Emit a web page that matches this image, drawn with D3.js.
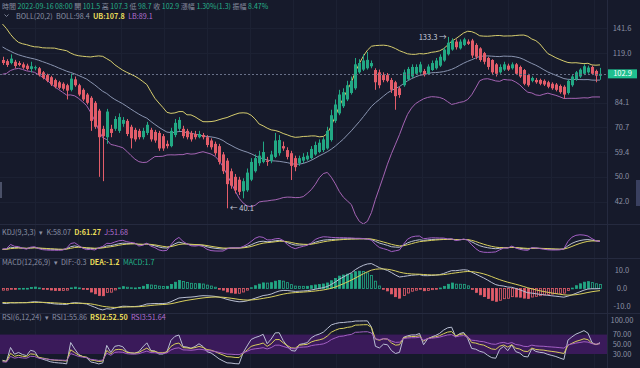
<!DOCTYPE html>
<html><head><meta charset="utf-8">
<script src="https://cdn.jsdelivr.net/npm/d3@7/dist/d3.min.js"></script>
<style>
html,body{margin:0;padding:0;background:#161a2b;overflow:hidden;}
svg{display:block;font-family:"Noto Sans CJK TC","Noto Sans",sans-serif;}
</style></head><body>
<svg id="c" width="640" height="368"></svg>
<script>
// ---------- data ----------
const opens = [
113.4,112.5,111,112,111,110,109,106.5,107,107,
104,102,100.5,98.5,97,96,95,92,99,95,
92,89,87,84,79.5,70,66,70,70,69,
72.5,74,71,69.5,69,66,68,69.5,68.5,68,
66.5,63,62,67,70,70,69,68,67.5,66,
67,66,64.5,63,62,58.5,56,52,50,49,
45.2,45.5,49,52,55,55.5,56,56,57.5,59,
62,60.3,59,57,55,56,56.5,57,58.5,59.5,
60.3,61,64.7,74,78,82,86,90,93,104,
106,107,108.5,105.7,104,102,102,98.6,97,93,
95,99,101,103,104,105,103,105.7,107,109,
113,118,122,129,123,126,129,130,126,123,
119,115,113.4,110,104,106,109,107,110,108,
105.7,102,98,98.6,98.6,98,97,96,95.5,94.5,
94,90,95,99,101,103,104,108,105,101.5];
const highs = [
116,114,118,113.5,112.5,111.5,110.5,112,109,108,
105,103,101.5,99.5,98,97,96,103,101,96,
93,90,88,85,80.5,71.5,80.5,72,76.5,78,
76,75,72,70.5,70,70.5,73.5,70.5,69.5,69,
67.5,64.5,70.5,75,76,71.5,70,69,69,69,
68,67,65.5,64,63,59.5,57,53,51,50,
49.5,53,57,58.5,60,64,57.5,60,68,67,
64,61.5,60,58,58,59,59.5,62,64,65,
66,71,80,86,92,93,98,101,115,114,
118,120,113,107,106,104,103.5,100,98,94,
106,108,110,110,112,106.5,110,113,115,118,
124,133.3,132,131,131,132.5,131,131.5,127.5,124,
120,116,114,111,110,112,110.5,111.5,111,109,
106.5,103,101,100,99.5,99,98,97,96.5,95.5,
95,99,102,105,107,110,109,109,106,107.3];
const lows = [
109.5,108,110,107,108.5,106.5,105.5,104,105.5,101,
99,97,94.5,93,92.5,91.5,86,91,94,88,
85,83,69,70,50,48.5,63,66,69,68,
71,66.5,61,64,65,65,67,64,63.5,60,
60,61,61.5,66,69,65.5,65,64,65,65.5,
65,61.5,60.5,58,54.5,51,40.1,46,44.5,44,
43,45,48.5,51.5,54,55,54,55,57,58,
60,56.5,48.9,52,54,55,56,56.5,58,59,
59.5,60.5,64,73,77,81,85,89,92,103,
105,106,107,92,93,97,97,90,80,87,
94,98,100,102,103,101,102,105,106,108,
112,117,121,122,122,125,126,115,114,112,
110,106,102,101,103,105,105,106,102,100,
95,94,97,96,95,94.5,93,92,91,89.5,
86.5,89,94,98,100,102,103,102,97,98.7];
const closes = [
111,109.5,114.5,108.7,109.5,107.5,106.5,108.5,107.8,102,
100,98,95.5,94,93.3,92.7,91.5,99.5,95,89,
86,84,74,71,66,66.5,79,68,75,76,
74.5,67.5,65.5,65,66,69,72,65,64.5,61,
61,62,69,73,74.5,66.5,66,65,66,67.5,
66,62.5,61.5,59,55.5,52,47.5,47,45.5,45,
48.5,51.5,55.5,57,58,59.5,55.5,58.5,64.5,64.7,
61,57.5,54,53.5,57,57.5,58,60.8,62.5,63.5,
65,69,77,83,89,90.5,95,98,110,111,
113,113.5,111,97,95,98.5,98,92,88,88.7,
104,106.5,108,108,110,102,108.3,111,113,116,
122,128,130,124,129,131,127,117,116,113.4,
112,108,104,103,108,110,106,110,103,101,
96,95,100,97,96,95.5,94,93,92,90.5,
89,98,101,104,106,108.5,107.5,103,101.6,102.9];
// closes before the visible window (only implied by the band levels at the left edge)
const priorCloses = [150,148,142,135,128,125,124,122,121,123,120,119,118,120,117,116,118,115,113];

const priceTicks = [42.0,50.0,59.4,70.7,84.1,119.0,141.6];
const macdTicks = [10.0,0.0,-10.0];
const rsiTicks = [100,70,50,30];

const headerParts = [["時間 ","l"],["2022-09-16 08:00 ","v"],["開 ","l"],["101.5 ","v"],["高 ","l"],["107.3 ","v"],["低 ","l"],["98.7 ","v"],["收 ","l"],["102.9 ","v"],["漲幅 ","l"],["1.30%(1.3) ","v"],["振幅 ","l"],["8.47%","v"]];
const bollLegend = [["BOLL(20,2)  ","#8a90a4",400],["BOLL:98.4  ","#8a90a4",400],["UB:107.8  ","#e8dc5a",700],["LB:89.1","#b36fd0",400]];
const kdjLegend = [["KDJ(9,3,3)  ▾  ","#8a90a4",400],["K:58.07  ","#8a90a4",400],["D:61.27  ","#e8dc5a",700],["J:51.68","#b36fd0",400]];
const macdLegend = [["MACD(12,26,9)  ▾  ","#8a90a4",400],["DIF:-0.3  ","#8a90a4",400],["DEA:-1.2  ","#e8dc5a",700],["MACD:1.7","#22b38a",400]];
const rsiLegend = [["RSI(6,12,24)  ▾  ","#8a90a4",400],["RSI1:55.86  ","#8a90a4",400],["RSI2:52.50  ","#e8dc5a",700],["RSI3:51.64","#b36fd0",400]];

// ---------- colors ----------
const BG="#161a2b", UP="#22a884", DOWN="#e35d6a", GRID="#1c2133", AX="#252a3f";
const C_UB="#d6cd6e", C_MID="#8994b0", C_LB="#a564b4";
const C_W="#b9bfd3", C_Y="#d8cf5c", C_P="#a35fc4";

// ---------- indicators computed from the closes ----------
const N = closes.length, P = priorCloses.length;
const allC = priorCloses.concat(closes);
const allH = priorCloses.concat(highs);
const allL = priorCloses.concat(lows);
const boll = [];
for (let i=0;i<N;i++){
  const w = allC.slice(P+i-19, P+i+1);
  const m = d3.mean(w);
  const sd = Math.sqrt(d3.mean(w, v=>(v-m)*(v-m)));
  boll.push({mid:m, ub:m+2*sd, lb:m-2*sd});
}
let e12=allC[0], e26=allC[0], dea=0; const macd=[];
allC.forEach((c,k)=>{ e12 = e12+(c-e12)*2/13; e26=e26+(c-e26)*2/27; const dif=e12-e26; dea = dea+(dif-dea)*2/10; macd.push({dif, dea, h:2*(dif-dea)}); });
let K=50,D=50; const kdj=[];
allC.forEach((c,k)=>{ const lo=d3.min(allL.slice(Math.max(0,k-8),k+1)), hi=d3.max(allH.slice(Math.max(0,k-8),k+1)); const rsv = hi===lo?50:(c-lo)/(hi-lo)*100; K=(2*K+rsv)/3; D=(2*D+K)/3; kdj.push({k:K,d:D,j:3*K-2*D}); });
function rsiCalc(n){ let up=0, dn=0; const out=[50]; for(let k=1;k<allC.length;k++){ const ch=allC[k]-allC[k-1]; up=(up*(n-1)+Math.max(ch,0))/n; dn=(dn*(n-1)+Math.abs(ch))/n; out.push(dn===0?50:up/dn*100);} return out; }
const r6=rsiCalc(6), r12=rsiCalc(12), r24=rsiCalc(24);

// ---------- scales ----------
const x = d3.scaleBand().domain(d3.range(N)).range([0.5,602]).paddingInner(0.3).paddingOuter(0.15);
const cx = i => x(i)+x.bandwidth()/2;
const y = d3.scaleLog().domain([42.0,141.6]).range([201.7,28.3]);
const yK = d3.scaleLinear().domain([-60,160]).range([258,230]);
const yM = d3.scaleLinear().domain([-10,10]).range([306.5,270.5]);
const yR = d3.scaleLinear().domain([30,100]).range([354,320]);

const svg = d3.select('#c');
svg.append('rect').attr('width',640).attr('height',368).attr('fill',BG);

// vertical grid
const gx = d3.range(35,600,43);
svg.append('g').selectAll('line').data(gx).join('line')
  .attr('x1',d=>d+0.5).attr('x2',d=>d+0.5).attr('y1',0).attr('y2',368).attr('stroke',GRID).attr('stroke-width',1);
// horizontal grid at price ticks
svg.append('g').selectAll('line').data(priceTicks).join('line')
  .attr('x1',0).attr('x2',607).attr('y1',d=>Math.round(y(d))+0.5).attr('y2',d=>Math.round(y(d))+0.5).attr('stroke',GRID);
// panel separators
[224.5,258.5,313.5].forEach(v=>svg.append('line').attr('x1',0).attr('x2',640).attr('y1',v).attr('y2',v).attr('stroke',AX));
svg.append('line').attr('x1',607.5).attr('x2',607.5).attr('y1',0).attr('y2',368).attr('stroke',AX);

// clip paths
const defs = svg.append('defs');
[['cm',0,224],['ck',225,33],['cmd',259,54],['cr',314,54]].forEach(([id,y0,h])=>defs.append('clipPath').attr('id',id).append('rect').attr('x',0).attr('y',y0).attr('width',607).attr('height',h));

// ---------- main panel ----------
const main = svg.append('g').attr('clip-path','url(#cm)');
const line = (acc, ys) => d3.line().x((d,i)=>cx(i)).y(d=>ys(acc(d)));
main.append('path').datum(boll).attr('d',line(d=>d.ub,y)).attr('fill','none').attr('stroke',C_UB).attr('stroke-width',1);
main.append('path').datum(boll).attr('d',line(d=>d.mid,y)).attr('fill','none').attr('stroke',C_MID).attr('stroke-width',1);
main.append('path').datum(boll).attr('d',line(d=>d.lb,y)).attr('fill','none').attr('stroke',C_LB).attr('stroke-width',1);

const cg = main.append('g').selectAll('g').data(d3.range(N)).join('g');
cg.append('line').attr('x1',i=>Math.round(cx(i))+0.5).attr('x2',i=>Math.round(cx(i))+0.5)
  .attr('y1',i=>y(highs[i])).attr('y2',i=>y(lows[i]))
  .attr('stroke',i=>closes[i]>=opens[i]?UP:DOWN).attr('stroke-width',1);
cg.append('rect').attr('x',i=>Math.round(cx(i))-1).attr('width',3)
  .attr('y',i=>y(Math.max(opens[i],closes[i])))
  .attr('height',i=>Math.max(1,Math.abs(y(opens[i])-y(closes[i]))))
  .attr('fill',i=>closes[i]>=opens[i]?UP:DOWN);

// current price dashed line + label
const last = closes[N-1];
svg.append('line').attr('x1',0).attr('x2',607).attr('y1',Math.round(y(last))+0.5).attr('y2',Math.round(y(last))+0.5)
  .attr('stroke','#687088').attr('stroke-dasharray','2,2');

// price axis labels
svg.append('g').selectAll('text').data(priceTicks).join('text')
  .attr('x',622).attr('y',d=>y(d)).attr('dy','0.35em').attr('text-anchor','middle')
  .attr('fill','#8a90a4').attr('font-size',7.5).text(d=>d.toFixed(1));
svg.append('rect').attr('x',608).attr('y',y(last)-4.5).attr('width',29).attr('height',9).attr('fill','#1fbf8f');
svg.append('text').attr('x',622.5).attr('y',y(last)).attr('dy','0.35em').attr('text-anchor','middle')
  .attr('fill','#ffffff').attr('font-size',7.5).text(last.toFixed(1));

// high / low annotations
const iHi = d3.maxIndex(highs), iLo = d3.minIndex(lows);
svg.append('text').attr('x',cx(iHi)-1).attr('y',y(highs[iHi])).attr('dy','0.35em').attr('text-anchor','end')
  .attr('fill','#c9cedc').attr('font-size',7.5).text(highs[iHi].toFixed(1)+' →');
svg.append('text').attr('x',cx(iLo)+3).attr('y',y(lows[iLo])).attr('dy','0.35em').attr('text-anchor','start')
  .attr('fill','#c9cedc').attr('font-size',7.5).text('← '+lows[iLo].toFixed(1));

// header
const h1 = svg.append('text').attr('x',2).attr('y',9).attr('font-size',7);
headerParts.forEach(([t,k])=>h1.append('tspan').attr('fill',k==='l'?'#868c9f':'#26b08a').text(t));
svg.append('path').attr('d','M4.5,14.5 L6.5,16.5 L8.5,14.5').attr('fill','none').attr('stroke','#868c9f').attr('stroke-width',0.9);
function legend(yy, x0, parts){ const t=svg.append('text').attr('x',x0).attr('y',yy).attr('font-size',7.2).attr('xml:space','preserve');
  parts.forEach(([s,c,w])=>t.append('tspan').attr('fill',c).attr('font-weight',w).text(s)); }
legend(19,16,bollLegend);
legend(235,2,kdjLegend);
legend(265,2,macdLegend);
legend(320,2,rsiLegend);

// ---------- KDJ ----------
const kv = kdj.slice(P);
const kg = svg.append('g').attr('clip-path','url(#ck)');
kg.append('path').datum(kv).attr('d',line(d=>d.k,yK)).attr('fill','none').attr('stroke',C_W).attr('stroke-width',1);
kg.append('path').datum(kv).attr('d',line(d=>d.d,yK)).attr('fill','none').attr('stroke',C_Y).attr('stroke-width',1);
kg.append('path').datum(kv).attr('d',line(d=>d.j,yK)).attr('fill','none').attr('stroke',C_P).attr('stroke-width',1);

// ---------- MACD ----------
const mv = macd.slice(P);
const mg = svg.append('g').attr('clip-path','url(#cmd)');
mg.selectAll('rect').data(mv).join('rect')
  .attr('x',(d,i)=>Math.round(cx(i))-1+0.5).attr('width',2)
  .attr('y',d=>Math.min(yM(d.h),yM(0)))
  .attr('height',d=>Math.max(0.8,Math.abs(yM(d.h)-yM(0))))
  .each(function(d,i){ const prev = macd[P+i-1].h; const grow = Math.abs(d.h)>=Math.abs(prev); const col = d.h>=0?UP:DOWN;
    d3.select(this).attr('fill',grow?col:'none').attr('stroke',col).attr('stroke-width',0.8); });
mg.append('path').datum(mv).attr('d',line(d=>d.dif,yM)).attr('fill','none').attr('stroke',C_W).attr('stroke-width',1);
mg.append('path').datum(mv).attr('d',line(d=>d.dea,yM)).attr('fill','none').attr('stroke',C_Y).attr('stroke-width',1);
svg.append('g').selectAll('text').data(macdTicks).join('text')
  .attr('x',622).attr('y',d=>yM(d)).attr('dy','0.35em').attr('text-anchor','middle')
  .attr('fill','#8a90a4').attr('font-size',7.5).text(d=>d.toFixed(1));

// ---------- RSI ----------
svg.append('rect').attr('x',0).attr('width',607).attr('y',yR(70)).attr('height',yR(30)-yR(70)).attr('fill','#3a1a5a');
const rg = svg.append('g').attr('clip-path','url(#cr)');
const rIdx = d3.range(N);
rg.append('path').datum(rIdx).attr('d',d3.line().x(i=>cx(i)).y(i=>yR(r6[P+i]))).attr('fill','none').attr('stroke',C_W).attr('stroke-width',1);
rg.append('path').datum(rIdx).attr('d',d3.line().x(i=>cx(i)).y(i=>yR(r12[P+i]))).attr('fill','none').attr('stroke',C_Y).attr('stroke-width',1);
rg.append('path').datum(rIdx).attr('d',d3.line().x(i=>cx(i)).y(i=>yR(r24[P+i]))).attr('fill','none').attr('stroke',C_P).attr('stroke-width',1);
svg.append('g').selectAll('text').data(rsiTicks).join('text')
  .attr('x',622).attr('y',d=>yR(d)).attr('dy','0.35em').attr('text-anchor','middle')
  .attr('fill','#8a90a4').attr('font-size',7.5).text(d=>d.toFixed(2));

// small edge handles
svg.append('rect').attr('x',0).attr('y',182).attr('width',2).attr('height',16).attr('fill','#4a5068');
svg.append('rect').attr('x',636).attr('y',180).attr('width',4).attr('height',26).attr('fill','#3a4060');
</script>
</body></html>
